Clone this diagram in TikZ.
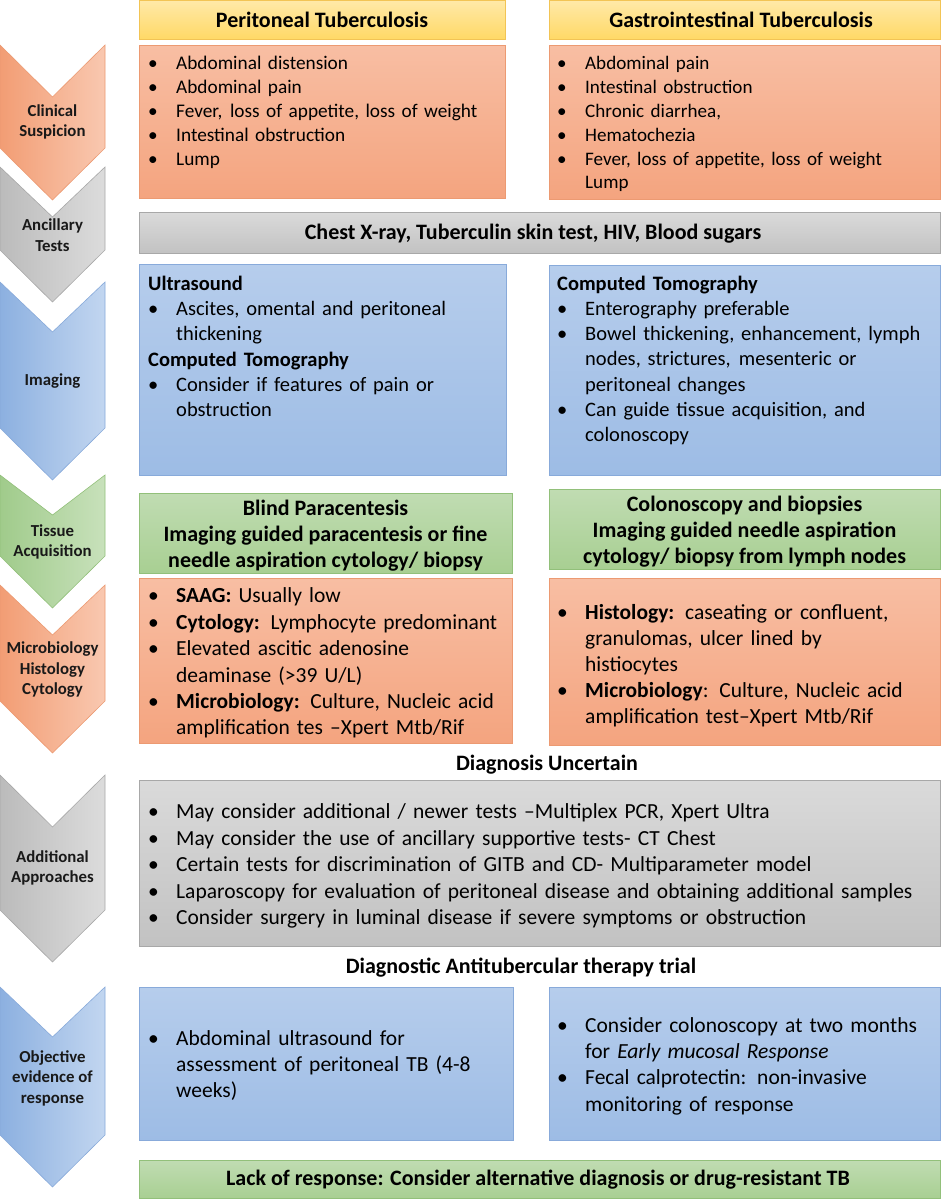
\documentclass[tikz,border=0pt]{standalone}
\usepackage{fontspec}
\setmainfont{Carlito}
\definecolor{yelT}{HTML}{FFE9A8}\definecolor{yelB}{HTML}{FFD966}\definecolor{yelD}{HTML}{F2C455}
\definecolor{salT}{HTML}{F8BEA3}\definecolor{salB}{HTML}{F4A47F}\definecolor{salD}{HTML}{EC9A72}
\definecolor{grT}{HTML}{DADADA}\definecolor{grB}{HTML}{C2C2C2}\definecolor{grD}{HTML}{A8A8A8}
\definecolor{blT}{HTML}{B6CDEC}\definecolor{blB}{HTML}{9DBCE5}\definecolor{blD}{HTML}{88AADA}
\definecolor{gnT}{HTML}{C0DCB2}\definecolor{gnB}{HTML}{A8CF92}\definecolor{gnD}{HTML}{92C07A}
\definecolor{chO1}{HTML}{F29D74}\definecolor{chO2}{HTML}{F9C8B0}
\definecolor{chG1}{HTML}{BBBBBB}\definecolor{chG2}{HTML}{DCDCDC}
\definecolor{chB1}{HTML}{8CB0E0}\definecolor{chB2}{HTML}{C2D6F0}
\definecolor{chN1}{HTML}{A0CB8B}\definecolor{chN2}{HTML}{C8E1BB}
\newcommand\itm{\par\hangindent=28pt\hangafter=1\noindent\strut\makebox[28pt][l]{\textbullet}}
\newcommand\hd[1]{\par\noindent\strut\textbf{#1}}
\tikzset{
  box/.style={rectangle, anchor=north west, inner sep=0pt, line width=0.8pt},
  ybox/.style={box, draw=yelD, top color=yelT, bottom color=yelB},
  sbox/.style={box, draw=salD, top color=salT, bottom color=salB},
  gbox/.style={box, draw=grD, top color=grT, bottom color=grB},
  bbox/.style={box, draw=blD, top color=blT, bottom color=blB},
  nbox/.style={box, draw=gnD, top color=gnT, bottom color=gnB},
  btxt/.style={anchor=base west, inner sep=0pt, text width=#1, align=left},
  ctxt/.style={inner sep=0pt, align=center, font=\bfseries\fontsize{22}{26}\selectfont},
  chtxt/.style={inner sep=0pt, align=center, text=black!90, font=\bfseries\fontsize{16.8}{20.5}\selectfont},
  cho/.style={left color=chO1, right color=chO2, draw=salD, line width=0.6pt},
  chg/.style={left color=chG1, right color=chG2, draw=grD, line width=0.6pt},
  chb/.style={left color=chB1, right color=chB2, draw=blD, line width=0.6pt},
  chn/.style={left color=chN1, right color=chN2, draw=gnD, line width=0.6pt},
}
% #1 style, #2 top, #3 notch depth, #4 side end, #5 name, #6 text y, #7 text
\newcommand\chevronshape[7]{%
  \path[#1] (0,#2) -- (52.5,#2+#3) -- (105,#2) -- (105,#4) -- (52.5,#4+52) -- (0,#4) -- cycle;
  \node[chtxt] (#5) at (52.5,#6) {#7};}
\begin{document}
\begin{tikzpicture}[x=1pt,y=-1pt]
\useasboundingbox[fill=white] (0,0) rectangle (941,1200);
% chevrons
\chevronshape{cho}{45}{52}{148}{c1}{122}{Clinical\\Suspicion}
\chevronshape{chg}{167}{50}{250}{c2}{235}{Ancillary\\Tests}
\chevronshape{chb}{282}{50}{428}{c3}{381}{Imaging}
\chevronshape{chn}{475}{40}{556}{c4}{542}{Tissue\\Acquisition}
\chevronshape{cho}{585}{50}{701}{c5}{670}{Microbiology\\Histology\\Cytology}
\chevronshape{chg}{775}{52}{910}{c6}{868}{Additional\\Approaches}
\chevronshape{chb}{987}{50}{1135}{c7}{1078}{Objective\\evidence of\\response}
% headers
\node[ybox, minimum width=366pt, minimum height=39pt] (h1) at (139,0) {};
\node[ybox, minimum width=391pt, minimum height=39pt] (h2) at (549,0) {};
\node[ctxt] (h1t) at (322,20) {Peritoneal Tuberculosis};
\node[ctxt] (h2t) at (741,20) {Gastrointestinal Tuberculosis};
% clinical
\node[sbox, minimum width=366pt, minimum height=153pt] (cl) at (139,45) {};
\node[sbox, minimum width=391pt, minimum height=154pt] (cr) at (549,45) {};
\node[btxt=360pt, font=\fontsize{19.3}{23.8}\selectfont] (clt) at (148,46) {%
\itm Abdominal distension
\itm Abdominal pain
\itm Fever,\hspace{0.4em}loss of appetite, loss of weight
\itm Intestinal obstruction
\itm Lump\par};
\node[btxt=380pt, font=\fontsize{19.1}{23.8}\selectfont] (crt) at (557,46) {%
\itm Abdominal pain
\itm Intestinal obstruction
\itm Chronic diarrhea,
\itm Hematochezia
\itm Fever, loss of appetite, loss of weight\newline Lump\par};
% ancillary
\node[gbox, minimum width=801pt, minimum height=41pt] (an) at (139,212) {};
\node[ctxt] (ant) at (533,234) {Chest X-ray, Tuberculin skin test, HIV, Blood sugars};
% imaging
\node[bbox, minimum width=367pt, minimum height=211pt] (il) at (139,264) {};
\node[bbox, minimum width=391pt, minimum height=210pt] (ir) at (549,265) {};
\node[btxt=360pt, font=\fontsize{20.5}{25.3}\selectfont] (ilt) at (148,265) {%
\hd{Ultrasound}
\itm Ascites, omental and peritoneal\newline thickening
\hd{Computed Tomography}
\itm Consider if features of pain or\newline obstruction\par};
\node[btxt=380pt, font=\fontsize{20.5}{25.2}\selectfont] (irt) at (557,265) {%
\hd{Computed Tomography}
\itm Enterography preferable
\itm Bowel thickening, enhancement, lymph\newline nodes, strictures,\hspace{0.4em}mesenteric or\newline peritoneal changes
\itm Can guide tissue acquisition, and\newline colonoscopy\par};
% tissue
\node[nbox, minimum width=373pt, minimum height=80pt] (tl) at (139,493) {};
\node[nbox, minimum width=391pt, minimum height=80pt] (tr) at (549,489) {};
\node[ctxt] (tlt) at (325.5,536) {Blind Paracentesis\\Imaging guided paracentesis or fine\\needle aspiration cytology/ biopsy};
\node[ctxt] (trt) at (744.5,532) {Colonoscopy and biopsies\\Imaging guided needle aspiration\\cytology/ biopsy from lymph nodes};
% micro
\node[sbox, minimum width=373pt, minimum height=165pt] (ml) at (139,578) {};
\node[sbox, minimum width=391pt, minimum height=167pt] (mr) at (549,578) {};
\node[btxt=365pt, font=\fontsize{21.5}{26.4}\selectfont] (mlt) at (148,576.5) {%
\itm \textbf{SAAG:} Usually low
\itm \textbf{Cytology:} Lymphocyte predominant
\itm Elevated ascitic adenosine\newline deaminase (>39 U/L)
\itm \textbf{Microbiology:} Culture, Nucleic acid\newline amplification tes –Xpert Mtb/Rif\par};
\node[btxt=380pt, font=\fontsize{21.5}{25.8}\selectfont] (mrt) at (557,594) {%
\itm \textbf{Histology:} caseating or confluent,\newline granulomas, ulcer lined by\newline histiocytes
\itm \textbf{Microbiology}: Culture, Nucleic acid\newline amplification test–Xpert Mtb/Rif\par};
% diagnosis uncertain
\node[ctxt] (du) at (547,765) {Diagnosis Uncertain};
% additional
\node[gbox, minimum width=801pt, minimum height=166pt] (ad) at (139,780) {};
\node[btxt=790pt, font=\fontsize{21.5}{26.5}\selectfont] (adt) at (148,792) {%
\itm May consider additional / newer tests –Multiplex PCR, Xpert Ultra
\itm May consider the use of ancillary supportive tests- CT Chest
\itm Certain tests for discrimination of GITB and CD- Multiparameter model
\itm Laparoscopy for evaluation of peritoneal disease and obtaining additional samples
\itm Consider surgery in luminal disease if severe symptoms or obstruction\par};
% trial
\node[ctxt] (dt) at (521,968) {Diagnostic Antitubercular therapy trial};
% objective
\node[bbox, minimum width=374pt, minimum height=153pt] (ol) at (139,987) {};
\node[bbox, minimum width=391pt, minimum height=153pt] (or) at (549,987) {};
\node[btxt=365pt, font=\fontsize{21.5}{26}\selectfont] (olt) at (148,1019) {%
\itm Abdominal ultrasound for\newline assessment of peritoneal TB (4-8\newline weeks)\par};
\node[btxt=380pt, font=\fontsize{21.5}{26.3}\selectfont] (ort) at (557,1006) {%
\itm Consider colonoscopy at two months\newline for \textit{Early mucosal Response}
\itm Fecal calprotectin: non-invasive\newline monitoring of response\par};
% lack of response
\node[nbox, minimum width=801pt, minimum height=38pt] (lr) at (139,1160) {};
\node[ctxt] (lrt) at (538,1180) {Lack of response: Consider alternative diagnosis or drug-resistant TB};
\end{tikzpicture}
\end{document}
